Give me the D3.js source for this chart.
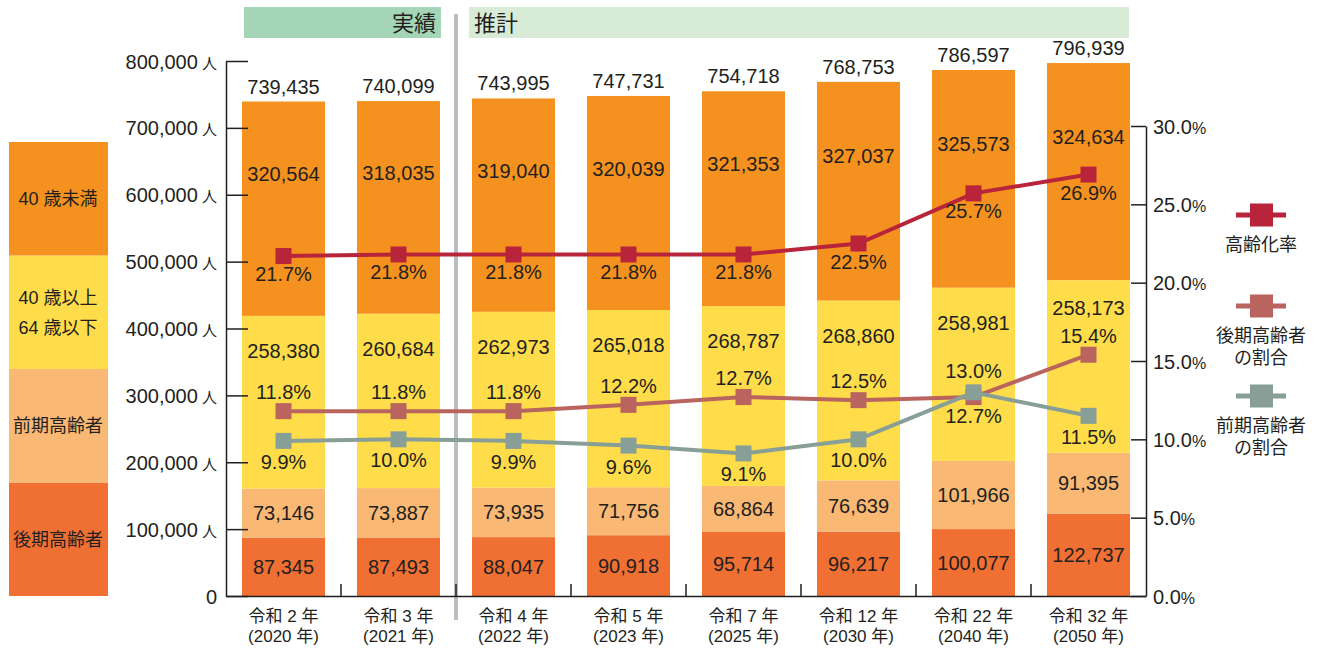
<!DOCTYPE html>
<html>
<head>
<meta charset="utf-8">
<script src="https://cdn.jsdelivr.net/npm/d3@7"></script>
<style>
  body { margin: 0; background: #fff; }
  svg text { font-family: "Liberation Sans", Arial, "Noto Sans CJK JP", sans-serif; fill: #231f20; }
</style>
</head>
<body>
<svg id="chart" width="1320" height="648"></svg>
<script>
// 年次ラベル
const reiwaLabels = ["令和 2 年", "令和 3 年", "令和 4 年", "令和 5 年", "令和 7 年", "令和 12 年", "令和 22 年", "令和 32 年"];
const yearLabels = ["(2020 年)", "(2021 年)", "(2022 年)", "(2023 年)", "(2025 年)", "(2030 年)", "(2040 年)", "(2050 年)"];

// 人口（人）
const kouki = [87345, 87493, 88047, 90918, 95714, 96217, 100077, 122737];
const zenki = [73146, 73887, 73935, 71756, 68864, 76639, 101966, 91395];
const age40to64 = [258380, 260684, 262973, 265018, 268787, 268860, 258981, 258173];
const under40 = [320564, 318035, 319040, 320039, 321353, 327037, 325573, 324634];
const totals = [739435, 740099, 743995, 747731, 754718, 768753, 786597, 796939];

// 割合（%）
const agingRate = [21.7, 21.8, 21.8, 21.8, 21.8, 22.5, 25.7, 26.9];
const koukiRate = [11.8, 11.8, 11.8, 12.2, 12.7, 12.5, 12.7, 15.4];
const zenkiRate = [9.9, 10.0, 9.9, 9.6, 9.1, 10.0, 13.0, 11.5];

const leftTicks = [0, 100000, 200000, 300000, 400000, 500000, 600000, 700000, 800000];
const rightTicks = [0, 5, 10, 15, 20, 25, 30];

const seriesNames = ["後期高齢者", "前期高齢者", "40 歳以上\n64 歳以下", "40 歳未満"];
const seriesColors = ["#f07033", "#f9b874", "#fedc4a", "#f5921f"];
const lineNames = ["高齢化率", "後期高齢者\nの割合", "前期高齢者\nの割合"];
const lineColors = ["#b8243a", "#b9645f", "#889f97"];

const svg = d3.select("#chart");
const fmt = d3.format(",");

const x = d3.scaleBand().domain(reiwaLabels).range([226, 1146]).paddingInner(0.278).paddingOuter(0.139);
const yL = d3.scaleLinear().domain([0, 800000]).range([596, 61]);
const yR = d3.scaleLinear().domain([0, 30]).range([596, 126]);
const bw = x.bandwidth();
const gap = (x.step() - bw) / 2;

const rows = reiwaLabels.map((k, i) => ({key: k, kouki: kouki[i], zenki: zenki[i], mid: age40to64[i], young: under40[i]}));
const keys = ["kouki", "zenki", "mid", "young"];
const stacked = d3.stack().keys(keys)(rows);

// header boxes
svg.append("rect").attr("x", x(reiwaLabels[0]) + 2).attr("y", 7)
  .attr("width", x(reiwaLabels[1]) + bw - x(reiwaLabels[0]) - 1).attr("height", 31).attr("fill", "#a3d5b6");
svg.append("text").attr("x", x(reiwaLabels[1]) + bw - 4).attr("y", 31)
  .attr("text-anchor", "end").attr("font-size", 22).text("実績");
svg.append("rect").attr("x", x(reiwaLabels[2]) - 3).attr("y", 7)
  .attr("width", x(reiwaLabels[7]) + bw - x(reiwaLabels[2]) + 2).attr("height", 31).attr("fill", "#d7ebd7");
svg.append("text").attr("x", x(reiwaLabels[2]) + 2).attr("y", 31)
  .attr("font-size", 22).text("推計");

// bars
svg.append("g").selectAll("g").data(stacked).join("g")
  .attr("fill", (d, i) => seriesColors[i])
  .selectAll("rect").data(d => d).join("rect")
  .attr("x", d => x(d.data.key))
  .attr("y", d => yL(d[1]))
  .attr("width", bw)
  .attr("height", d => yL(d[0]) - yL(d[1]));

// divider between 実績 and 推計
const divX = x(reiwaLabels[2]) - gap;
svg.append("line").attr("x1", divX).attr("x2", divX).attr("y1", 14).attr("y2", 620)
  .attr("stroke", "#bcbdc0").attr("stroke-width", 4);

// left axis
const axL = svg.append("g").attr("transform", "translate(226,0)")
  .call(d3.axisLeft(yL).tickValues(leftTicks).tickSize(-22).tickSizeOuter(0).tickPadding(9).tickFormat(fmt));
axL.selectAll("text").attr("font-size", 20).attr("dy", "0.35em")
  .each(function(d) {
    if (d > 0) d3.select(this).append("tspan").attr("font-size", 15).text(" 人");
  });
axL.select(".domain").attr("stroke", "#231f20").attr("stroke-width", 1.5);
axL.selectAll(".tick line").attr("stroke", "#231f20").attr("stroke-width", 1.5);

// right axis
const axR = svg.append("g").attr("transform", "translate(1146,0)")
  .call(d3.axisRight(yR).tickValues(rightTicks).tickSize(-15).tickSizeOuter(0).tickPadding(7).tickFormat(d3.format(".1f")));
axR.selectAll("text").attr("font-size", 20).attr("dy", "0.35em")
  .append("tspan").attr("font-size", 16).text("%");
axR.select(".domain").attr("stroke", "#231f20").attr("stroke-width", 1.5);
axR.selectAll(".tick line").attr("stroke", "#231f20").attr("stroke-width", 1.5);

// bottom axis
const axB = svg.append("g").attr("transform", "translate(0,596)")
  .call(d3.axisBottom(x).tickSize(0).tickSizeOuter(0).tickPadding(0));
axB.select(".domain").attr("stroke", "#231f20").attr("stroke-width", 1.5);
axB.selectAll(".tick text").attr("font-size", 17).attr("dy", null).attr("y", 26)
  .each(function(d, i) {
    d3.select(this).append("tspan").attr("x", 0).attr("dy", 20).text(yearLabels[i]);
  });
svg.append("g").selectAll("line").data(reiwaLabels.slice(1)).join("line")
  .attr("x1", d => x(d) - gap).attr("x2", d => x(d) - gap)
  .attr("y1", 596).attr("y2", 584)
  .attr("stroke", "#231f20").attr("stroke-width", 1.5);

// bar value labels
const labels = svg.append("g").attr("font-size", 20).attr("text-anchor", "middle");
labels.selectAll(".total").data(totals).join("text")
  .attr("x", (d, i) => x(reiwaLabels[i]) + bw / 2)
  .attr("y", d => yL(d) - 8)
  .text(fmt);
stacked.forEach((s, si) => {
  labels.append("g").selectAll("text").data(s).join("text")
    .attr("x", d => x(d.data.key) + bw / 2)
    .attr("y", (d, i) => {
      const top = yL(d[1]), bot = yL(d[0]);
      if (si === 3) return top + (bot - top) * 0.34;
      if (si === 2) return Math.min(top + 35, yR(koukiRate[i]) - 47);
      return (top + bot) / 2;
    })
    .attr("dy", "0.35em")
    .text(d => fmt(d.data[keys[si]]));
});

// lines
const cx = i => x(reiwaLabels[i]) + bw / 2;
const lineSets = [agingRate, koukiRate, zenkiRate];
lineSets.forEach((vals, li) => {
  const g = svg.append("g");
  g.append("path").datum(vals)
    .attr("fill", "none").attr("stroke", lineColors[li]).attr("stroke-width", 4)
    .attr("d", d3.line().x((d, i) => cx(i)).y(d => yR(d)));
  g.selectAll("rect").data(vals).join("rect")
    .attr("x", (d, i) => cx(i) - 8).attr("y", d => yR(d) - 8)
    .attr("width", 16).attr("height", 16).attr("fill", lineColors[li]);
});

// percentage labels
const pct = svg.append("g").attr("font-size", 20).attr("text-anchor", "middle");
pct.selectAll(".a").data(agingRate).join("text")
  .attr("x", (d, i) => cx(i)).attr("y", d => yR(d) + 18).attr("dy", "0.35em")
  .text(d => d.toFixed(1) + "%");
pct.selectAll(".k").data(koukiRate).join("text")
  .attr("x", (d, i) => cx(i))
  .attr("y", (d, i) => yR(d) + (d >= zenkiRate[i] ? -19 : 19)).attr("dy", "0.35em")
  .text(d => d.toFixed(1) + "%");
pct.selectAll(".z").data(zenkiRate).join("text")
  .attr("x", (d, i) => cx(i))
  .attr("y", (d, i) => yR(d) + (d > koukiRate[i] ? -21 : 21)).attr("dy", "0.35em")
  .text(d => d.toFixed(1) + "%");

// left legend (stacked series)
const legL = svg.append("g");
const boxH = 113.5;
seriesNames.forEach((name, i) => {
  const y0 = 596 - (i + 1) * boxH;
  legL.append("rect").attr("x", 9).attr("y", y0).attr("width", 99).attr("height", boxH).attr("fill", seriesColors[i]);
  const lines = name.split("\n");
  lines.forEach((t, j) => {
    legL.append("text").attr("x", 58).attr("y", y0 + boxH / 2 + (j - (lines.length - 1) / 2) * 30)
      .attr("dy", "0.35em").attr("text-anchor", "middle").attr("font-size", 18).text(t);
  });
});

// right legend (lines)
const legR = svg.append("g");
const legY = [215, 306, 396];
lineNames.forEach((name, i) => {
  legR.append("line").attr("x1", 1236).attr("x2", 1286).attr("y1", legY[i]).attr("y2", legY[i])
    .attr("stroke", lineColors[i]).attr("stroke-width", 5);
  legR.append("rect").attr("x", 1250).attr("y", legY[i] - 11.5).attr("width", 23).attr("height", 23)
    .attr("fill", lineColors[i]);
  name.split("\n").forEach((t, j) => {
    legR.append("text").attr("x", 1261).attr("y", legY[i] + 30 + j * 22).attr("dy", "0.35em")
      .attr("text-anchor", "middle").attr("font-size", 18).text(t);
  });
});
</script>
</body>
</html>
